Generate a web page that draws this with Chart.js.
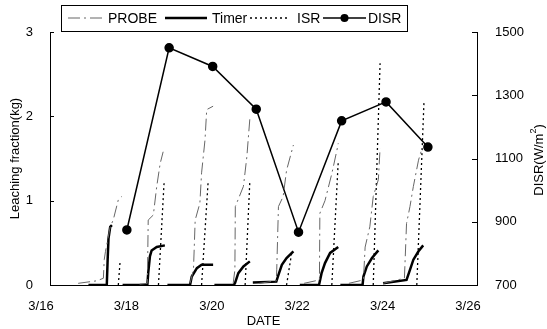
<!DOCTYPE html>
<html>
<head>
<meta charset="utf-8">
<script src="https://cdn.jsdelivr.net/npm/chart.js@4"></script>
<style>
  html, body { margin: 0; padding: 0; background: #fff; }
  #wrap { width: 547px; height: 329px; }
</style>
</head>
<body>
<div id="wrap"><canvas id="chart" width="547" height="329"></canvas></div>
<script>
// x values are days of March (16 = 3/16), null breaks the daily curves
const dateTicks = [16, 18, 20, 22, 24, 26];
const dateLabels = ['3/16', '3/18', '3/20', '3/22', '3/24', '3/26'];

const probeDay = [16.66, 17.10, 17.25, 17.27, 17.30, 17.41, 17.48, 17.60, 17.68, 17.69,
  18.10, 18.28, 18.30, 18.42, 18.50, 18.58, 18.65, 18.66,
  19.28, 19.36, 19.40, 19.51, 19.55, 19.63, 19.67, 19.82, 19.83,
  20.29, 20.33, 20.34, 20.53, 20.61, 20.68, 20.69,
  20.90, 21.30, 21.31, 21.35, 21.46, 21.54, 21.70, 21.71,
  21.95, 22.31, 22.32, 22.44, 22.60, 22.72, 22.75, 22.76,
  23.00, 23.34, 23.38, 23.49, 23.57, 23.69, 23.73, 23.74,
  23.80, 24.30, 24.35, 24.43, 24.51, 24.63, 24.70, 24.71];
const probeValue = [0.02, 0.05, 0.08, 0.30, 0.40, 0.69, 0.77, 1.01, 1.05, null,
  0.01, 0.02, 0.77, 0.83, 1.17, 1.44, 1.58, null,
  0.02, 0.18, 0.77, 0.97, 1.33, 1.72, 2.08, 2.12, null,
  0.02, 0.18, 0.93, 1.17, 1.52, 1.97, null,
  0.02, 0.05, 0.18, 0.93, 1.05, 1.36, 1.66, null,
  0.02, 0.06, 0.85, 1.00, 1.32, 1.60, 1.68, null,
  0.02, 0.06, 0.45, 0.69, 1.05, 1.25, 1.62, null,
  0.02, 0.08, 0.73, 0.93, 1.17, 1.48, 1.60, null];

const timerDay = [16.90, 17.33, 17.35, 17.37, 17.41, 17.45, 17.46,
  17.70, 18.28, 18.30, 18.34, 18.38, 18.50, 18.69, 18.70,
  18.75, 19.28, 19.32, 19.44, 19.55, 19.82, 19.83,
  19.85, 20.30, 20.33, 20.41, 20.53, 20.68, 20.69,
  20.75, 21.30, 21.35, 21.43, 21.54, 21.70, 21.71,
  21.85, 22.30, 22.36, 22.44, 22.56, 22.75, 22.76,
  22.80, 23.32, 23.34, 23.42, 23.54, 23.69, 23.70,
  23.80, 24.35, 24.43, 24.51, 24.63, 24.74, 24.75];
const timerValue = [0, 0, 0.30, 0.55, 0.69, 0.71, null,
  0, 0, 0.14, 0.34, 0.41, 0.45, 0.47, null,
  0, 0, 0.10, 0.20, 0.24, 0.24, null,
  0, 0, 0.02, 0.14, 0.22, 0.28, null,
  0.03, 0.04, 0.12, 0.24, 0.32, 0.40, null,
  0, 0, 0.14, 0.26, 0.38, 0.45, null,
  0, 0, 0.10, 0.22, 0.32, 0.41, null,
  0.02, 0.06, 0.18, 0.30, 0.40, 0.47, null];

const isrDay = [17.60, 17.64, 17.65,
  18.54, 18.67, 18.70, 18.71,
  19.55, 19.70, 19.73, 19.74,
  20.57, 20.68, 20.69,
  21.54, 21.66, 21.67,
  22.60, 22.75, 22.76,
  23.57, 23.73, 23.74,
  24.59, 24.76, 24.77];
const isrValue = [0, 0.27, null,
  0, 1.20, 1.21, null,
  0, 1.20, 1.21, null,
  0, 1.23, null,
  0, 0.38, null,
  0, 1.46, null,
  0, 2.63, null,
  0, 2.19, null];

const disrDay = [17.80, 18.79, 19.81, 20.83, 21.82, 22.83, 23.87, 24.85];
const disrValue = [874, 1450, 1391, 1256, 867, 1219, 1279, 1136];

const FONT = '"Liberation Sans", Arial, Helvetica, sans-serif';
Chart.defaults.font.family = FONT;
Chart.defaults.font.size = 13;
Chart.defaults.color = '#000';

function pts(days, vals) {
  return days.map((d, i) => ({ x: d, y: vals[i] }));
}

const series = [
  { label: 'PROBE', data: pts(probeDay, probeValue), borderColor: '#666', borderWidth: 1, borderDash: [12, 4, 2, 4], yAxisID: 'y' },
  { label: 'Timer', data: pts(timerDay, timerValue), borderColor: '#000', borderWidth: 2.5, yAxisID: 'y' },
  { label: 'ISR', data: pts(isrDay, isrValue), borderColor: '#000', borderWidth: 1.3, borderDash: [2, 3], yAxisID: 'y' },
  { label: 'DISR', data: pts(disrDay, disrValue), borderColor: '#000', borderWidth: 1.5, yAxisID: 'y2',
    pointRadius: 4, pointBackgroundColor: '#000', pointBorderColor: '#000' }
];

// legend box, inward ticks and the right hand title
const extras = {
  id: 'extras',
  afterDraw(chart) {
    const ctx = chart.ctx;
    const y = chart.scales.y, y2 = chart.scales.y2;
    ctx.save();
    ctx.strokeStyle = '#000';
    ctx.lineWidth = 1;
    y.ticks.forEach(t => {
      const py = Math.round(y.getPixelForValue(t.value)) + 0.5;
      ctx.beginPath(); ctx.moveTo(y.right, py); ctx.lineTo(y.right + 4, py); ctx.stroke();
    });
    y2.ticks.forEach(t => {
      const py = Math.round(y2.getPixelForValue(t.value)) + 0.5;
      ctx.beginPath(); ctx.moveTo(y2.left, py); ctx.lineTo(y2.left - 5, py); ctx.stroke();
    });

    // DISR(W/m2) reading bottom to top
    ctx.save();
    ctx.translate(539, 160);
    ctx.rotate(-Math.PI / 2);
    ctx.fillStyle = '#000';
    ctx.textBaseline = 'middle';
    const a = 'DISR(W/m', b = ')';
    ctx.font = '9px ' + FONT;
    const wSup = ctx.measureText('2').width;
    ctx.font = '13px ' + FONT;
    const wa = ctx.measureText(a).width, wb = ctx.measureText(b).width;
    const x0 = -(wa + wSup + wb) / 2;
    ctx.fillText(a, x0, 0);
    ctx.font = '9px ' + FONT;
    ctx.fillText('2', x0 + wa, -5);
    ctx.font = '13px ' + FONT;
    ctx.fillText(b, x0 + wa + wSup, 0);
    ctx.restore();

    // legend
    const ly = 18;
    ctx.strokeRect(61.5, 5.5, 346, 26);
    ctx.font = '14px ' + FONT;
    ctx.fillStyle = '#000';
    ctx.textBaseline = 'middle';
    const items = [[68, 105, 108], [165, 207, 212], [250, 290, 297], [323, 366, 368]];
    series.forEach((ds, i) => {
      const [x1, x2, tx] = items[i];
      ctx.save();
      ctx.strokeStyle = ds.borderColor;
      ctx.lineWidth = ds.borderWidth;
      ctx.setLineDash(ds.borderDash || []);
      ctx.beginPath(); ctx.moveTo(x1, ly); ctx.lineTo(x2, ly); ctx.stroke();
      if (ds.pointRadius) {
        ctx.beginPath(); ctx.arc((x1 + x2) / 2, ly, ds.pointRadius, 0, Math.PI * 2); ctx.fill();
      }
      ctx.restore();
      ctx.fillText(ds.label, tx, ly + 1);
    });
    ctx.restore();
  }
};

new Chart(document.getElementById('chart'), {
  type: 'line',
  data: { datasets: series },
  options: {
    responsive: false,
    animation: false,
    layout: { padding: { top: 32, left: 0, right: 0, bottom: 0 } },
    elements: { point: { radius: 0 }, line: { tension: 0 } },
    plugins: { legend: { display: false }, tooltip: { enabled: false } },
    scales: {
      x: {
        type: 'linear', min: 16, max: 26,
        afterBuildTicks: s => { s.ticks = dateTicks.map(v => ({ value: v })); },
        afterFit: s => { s.height = 44; },
        grid: { display: false, drawTicks: false },
        border: { display: true, color: '#000', width: 1 },
        ticks: { callback: (v) => dateLabels[dateTicks.indexOf(v)], padding: 14, labelOffset: -9, maxRotation: 0, autoSkip: false },
        title: { display: true, text: 'DATE', padding: { top: 0, bottom: 0 } }
      },
      y: {
        position: 'left', min: 0, max: 3,
        afterFit: s => { s.width = 50; },
        grid: { display: false, drawTicks: false },
        border: { display: true, color: '#000', width: 1 },
        ticks: { stepSize: 1, padding: 17 },
        title: { display: true, text: 'Leaching fraction(kg)', padding: { top: 8, bottom: 0 } }
      },
      y2: {
        position: 'right', min: 700, max: 1500,
        afterFit: s => { s.width = 70; },
        grid: { display: false, drawTicks: false },
        border: { display: true, color: '#000', width: 1 },
        ticks: { stepSize: 200, padding: 18, callback: v => String(v) }
      }
    }
  },
  plugins: [extras]
});
</script>
</body>
</html>
